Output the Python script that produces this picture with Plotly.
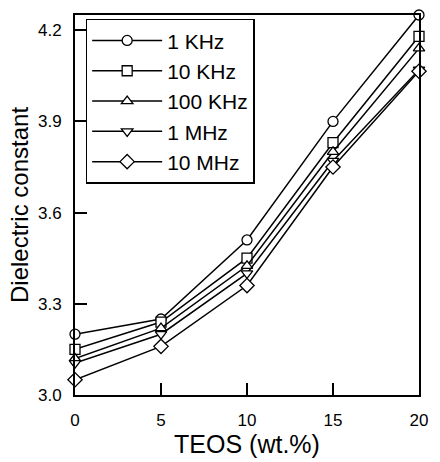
import plotly.graph_objects as go

teos = [0, 5, 10, 15, 20]
series_names = ["1 KHz", "10 KHz", "100 KHz", "1 MHz", "10 MHz"]
k_1khz = [3.20, 3.25, 3.51, 3.90, 4.25]
k_10khz = [3.15, 3.24, 3.45, 3.83, 4.18]
k_100khz = [3.12, 3.22, 3.425, 3.80, 4.14]
k_1mhz = [3.105, 3.20, 3.40, 3.77, 4.07]
k_10mhz = [3.05, 3.16, 3.36, 3.75, 4.065]
symbols = ["circle", "square", "triangle-up", "triangle-down", "diamond"]
all_vals = [k_1khz, k_10khz, k_100khz, k_1mhz, k_10mhz]

fig = go.Figure()
for name, vals, sym in zip(series_names, all_vals, symbols):
    fig.add_trace(go.Scatter(
        x=teos, y=vals, name=name, mode="lines+markers",
        line=dict(color="black", width=1.5),
        marker=dict(symbol=sym, size=10 if sym != "diamond" else 11,
                    color="white", line=dict(color="black", width=1.3)),
        cliponaxis=False,
    ))

fig.update_layout(
    width=440, height=462,
    margin=dict(l=75, r=12, t=15, b=65),
    paper_bgcolor="white", plot_bgcolor="white",
    font=dict(family="Liberation Sans, Arial, sans-serif", color="black"),
    showlegend=True,
    legend=dict(x=0.031, y=0.99, xanchor="left", yanchor="top",
                bordercolor="black", borderwidth=1.5, bgcolor="white",
                font=dict(size=21), tracegroupgap=0, itemwidth=70),
)
fig.update_xaxes(range=[0, 20], tickvals=[0, 5, 10, 15, 20],
                 ticks="inside", ticklen=12, tickwidth=1.5, tickcolor="black",
                 showline=True, linecolor="black", linewidth=2, mirror=True,
                 showgrid=False, zeroline=False, tickfont=dict(size=17),
                 ticklabelstandoff=9,
                 title=dict(text="TEOS (wt.%)", font=dict(size=25), standoff=2))
fig.update_yaxes(range=[3.0, 4.25], tickvals=[3.0, 3.3, 3.6, 3.9, 4.2],
                 ticktext=["3.0", "3.3", "3.6", "3.9", "4.2"],
                 ticks="inside", ticklen=12, tickwidth=1.5, tickcolor="black",
                 showline=True, linecolor="black", linewidth=2, mirror=True,
                 showgrid=False, zeroline=False, tickfont=dict(size=17),
                 ticklabelstandoff=8,
                 title=dict(text="Dielectric constant", font=dict(size=24), standoff=3))

fig.write_html("out.html")
